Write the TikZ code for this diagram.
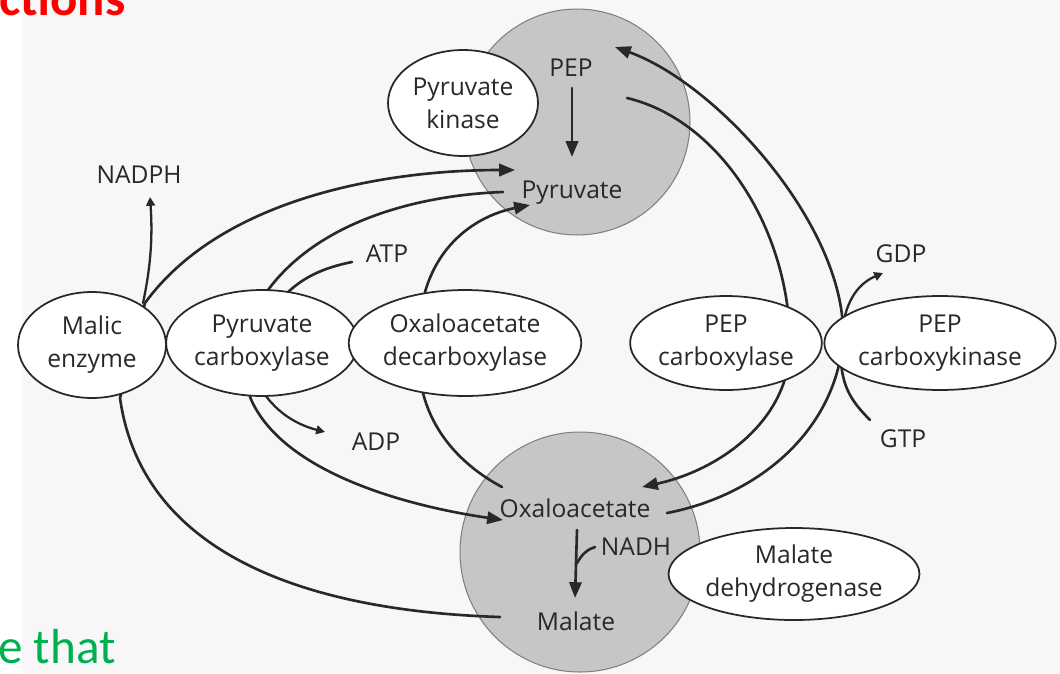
\documentclass[tikz,border=0pt]{standalone}
\usepackage{fontspec}
\setmainfont{Open Sans}
\newfontfamily\slidefont{Carlito}
\usetikzlibrary{arrows.meta,shapes.geometric}

\definecolor{ink}{RGB}{40,40,40}
\definecolor{slidered}{RGB}{255,0,0}
\definecolor{slidegreen}{RGB}{0,176,80}
\definecolor{pool}{RGB}{198,198,198}
\definecolor{paper}{RGB}{247,247,247}

\tikzset{
  txt/.style={font=\fontsize{14}{18.7}\selectfont, text=ink, inner sep=0pt},
  lbl/.style={txt, anchor=base},
  enzyme/.style={txt, ellipse, draw=ink, line width=1pt, fill=white, align=center},
  poolc/.style={circle, fill=pool, draw=black!50, line width=0.6pt, inner sep=0pt},
  flow/.style={draw=ink, line width=1.5pt, line cap=round,
               -{Triangle[length=9pt,width=7pt]}},
  plain/.style={draw=ink, line width=1.5pt, line cap=round},
  side/.style={draw=ink, line width=1.3pt, line cap=round,
               -{Triangle[length=5pt,width=5pt]}},
}

\begin{document}
\begin{tikzpicture}[x=0.02cm, y=-0.02cm]
  \useasboundingbox (0,0) rectangle (1060,673);
  % page background
  \fill[white] (0,0) rectangle (1060,673);
  \fill[paper] (22,0) rectangle (1060,673);

  % metabolite pools
  \node[poolc, minimum size=4.52cm] (top) at (577,122) {};
  \node[poolc, minimum size=4.80cm] (bot) at (580,552) {};

  % metabolites
  \node[lbl] (pep)  at (571,76)  {PEP};
  \node[lbl] (pyr)  at (572,198) {Pyruvate};
  \node[lbl] (oaa)  at (575,517) {Oxaloacetate};
  \node[lbl] (mal)  at (576,630) {Malate};
  \node[lbl] (nadh) at (636,555) {NADH};
  \node[lbl] (nadph) at (139,183) {NADPH};
  \node[lbl] (atp)  at (387,262) {ATP};
  \node[lbl] (adp)  at (376,450) {ADP};
  \node[lbl] (gdp)  at (901,262) {GDP};
  \node[lbl] (gtp)  at (903,447) {GTP};

  % connector end points
  \coordinate (pyrA) at (515,170);   % malic enzyme arrival
  \coordinate (pyrB) at (503,192);   % pyruvate carboxylase departure
  \coordinate (pyrC) at (530,205);   % decarboxylase arrival
  \coordinate (oaaA) at (503,520);   % pyruvate carboxylase arrival
  \coordinate (oaaB) at (502,487);   % decarboxylase departure
  \coordinate (oaaC) at (642,487);   % PEP carboxylase arrival
  \coordinate (oaaD) at (667,513);   % carboxykinase departure
  \coordinate (malA) at (500,617);   % malic enzyme departure
  \coordinate (pepA) at (627,98);    % PEP carboxylase departure
  \coordinate (pepB) at (615,47);    % carboxykinase arrival

  % malate -> malic enzyme -> pyruvate
  \path[flow] (malA) .. controls (280,610) and (140,540) .. (120,398)
     -- (145,303) .. controls (220,200) and (380,170) .. (pyrA);
  \path[side] (143,303) .. controls (150,270) and (153,240) .. (150,197);

  % pyruvate -> pyruvate carboxylase -> oxaloacetate
  \path[flow] (pyrB) .. controls (420,195) and (320,220) .. (268,290)
     -- (250,397) .. controls (280,470) and (400,505) .. (oaaA);
  \path[plain] (352,262) .. controls (322,268) and (302,278) .. (285,295);
  \path[side] (263,392) .. controls (278,414) and (298,425) .. (325,432);

  % oxaloacetate -> decarboxylase -> pyruvate
  \path[flow] (oaaB) .. controls (470,470) and (435,440) .. (423,393)
     -- (425,292) .. controls (440,240) and (480,215) .. (pyrC);

  % PEP -> PEP carboxylase -> oxaloacetate
  \path[flow] (pepA) .. controls (720,120) and (790,230) .. (790,345)
     .. controls (790,420) and (720,470) .. (oaaC);

  % oxaloacetate -> PEP carboxykinase -> PEP
  \path[flow] (oaaD) .. controls (760,495) and (835,430) .. (843,340)
     .. controls (848,230) and (720,85) .. (pepB);
  \path[side] (843,325) .. controls (848,295) and (862,282) .. (883,273);
  \path[plain] (870,420) .. controls (852,402) and (843,388) .. (841,362);

  % conversions inside the pools
  \path[flow] (572,88) -- (572,157);
  \path[flow] (577,530) -- (575,598);
  \path[plain] (577,563) .. controls (582,554) and (588,549) .. (595,547);

  % enzymes
  \node[enzyme, minimum width=3.00cm, minimum height=2.12cm] (pk)  at (463,103) {Pyruvate\\kinase};
  \node[enzyme, minimum width=2.96cm, minimum height=2.12cm] (me)  at (92,345)  {Malic\\enzyme};
  \node[enzyme, minimum width=3.72cm, minimum height=2.12cm] (pc)  at (262,343) {Pyruvate\\carboxylase};
  \node[enzyme, minimum width=4.32cm, minimum height=2.12cm] (odc) at (465,343) {Oxaloacetate\\decarboxylase};
  \node[enzyme, minimum width=3.64cm, minimum height=1.88cm] (pepc) at (726,343) {PEP\\carboxylase};
  \node[enzyme, minimum width=4.60cm, minimum height=1.88cm] (pepck) at (940,343) {PEP\\carboxykinase};
  \node[enzyme, minimum width=4.76cm, minimum height=1.84cm] (mdh) at (794,574) {Malate\\dehydrogenase};

  % slide text around the figure
  \node[anchor=base west, inner sep=0pt, text=slidered,
        font=\slidefont\bfseries\fontsize{29}{34}\selectfont] (head) at (-1,15) {ctions};
  \node[anchor=base west, inner sep=0pt, text=slidegreen,
        font=\slidefont\fontsize{28}{33}\selectfont] (foot) at (-2,663) {e that};
\end{tikzpicture}
\end{document}
